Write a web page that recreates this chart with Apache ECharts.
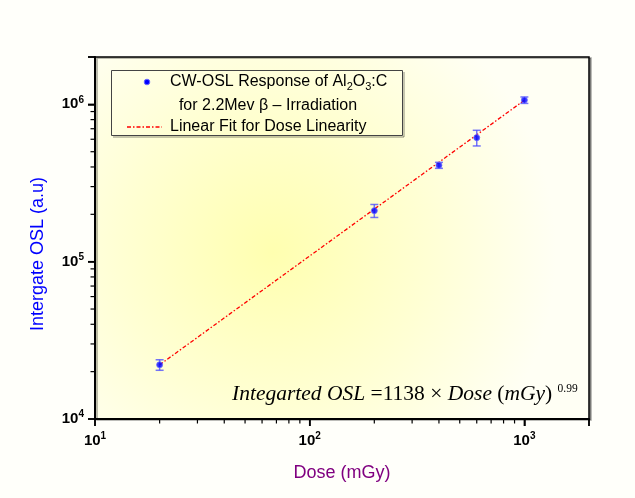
<!DOCTYPE html>
<html>
<head>
<meta charset="utf-8">
<script src="https://cdn.jsdelivr.net/npm/echarts@6/dist/echarts.min.js"></script>
<style>html,body{margin:0;padding:0;background:#fffffa;}#c{width:635px;height:498px;}</style>
</head>
<body>
<div id="c"></div>
<script>
// ---- data ----
const doses = [20, 200, 400, 600, 1000];                 // mGy
const oslValues = [22100, 211000, 410000, 614000, 1064000];
const oslErrors = [1700, 20000, 18000, 70000, 50000];
const fitX = [20, 1000];
const fitY = [22100, 1062000];
const xTickValues = [10, 100, 1000];
const xTickExps = ['1', '2', '3'];
const yTickValues = [1e4, 1e5, 1e6];
const yTickExps = ['4', '5', '6'];
const xMinorTicks = [20,30,40,50,60,70,80,90,200,300,400,500,600,700,800,900];
const yMinorTicks = [2e4,3e4,4e4,5e4,6e4,7e4,8e4,9e4,2e5,3e5,4e5,5e5,6e5,7e5,8e5,9e5];
const X_MIN = 10, X_MAX = 2000, Y_MIN = 1e4, Y_MAX = 2e6;

const chart = echarts.init(document.getElementById('c'));

function powFmt(vals, exps) {
  return function (v) {
    const i = vals.findIndex(t => Math.abs(t - v) / t < 1e-6);
    return i < 0 ? '' : '{b|10}{s|' + exps[i] + '}';
  };
}
const labelRich = {
  b: { fontSize: 15, fontWeight: 'bold', fontFamily: 'Liberation Sans, Arial', color: '#000' },
  s: { fontSize: 10, fontWeight: 'bold', fontFamily: 'Liberation Sans, Arial', color: '#000', padding: [0, 0, 9, 0] }
};

const SANS = 'Liberation Sans, Arial, sans-serif';
const SERIF = 'Liberation Serif, Times New Roman, serif';

const option = {
  backgroundColor: '#fffffa',
  animation: false,
  grid: {
    left: 95, right: 46, top: 57, bottom: 79,
    show: true,
    borderColor: '#000', borderWidth: 1.5,
    shadowColor: 'rgba(0,0,0,0.35)', shadowOffsetX: 2, shadowOffsetY: 1, shadowBlur: 0,
    backgroundColor: {
      type: 'radial', x: 0.36, y: 0.54, r: 0.78,
      colorStops: [
        { offset: 0, color: '#ffffb0' },
        { offset: 0.55, color: '#ffffd4' },
        { offset: 1, color: '#fffff4' }
      ]
    }
  },
  xAxis: {
    type: 'log', logBase: 10, min: X_MIN, max: X_MAX,
    axisLine: { show: true, lineStyle: { color: '#000', width: 2 } },
    axisTick: { show: true, inside: false, length: 7, lineStyle: { color: '#000', width: 1.5 } },
    axisLabel: { margin: 12, formatter: powFmt(xTickValues, xTickExps), rich: labelRich },
    splitLine: { show: false }, minorTick: { show: false }
  },
  yAxis: {
    type: 'log', logBase: 10, min: Y_MIN, max: Y_MAX,
    axisLine: { show: true, lineStyle: { color: '#000', width: 2 } },
    axisTick: { show: true, inside: false, length: 7, lineStyle: { color: '#000', width: 1.5 } },
    axisLabel: { margin: 11, formatter: powFmt(yTickValues, yTickExps), rich: labelRich },
    splitLine: { show: false }, minorTick: { show: false }
  },
  series: [
    {
      // axis ticks (major + minor) placed through the chart's own log scales
      name: 'ticks', type: 'custom', z: 6,
      data: [[100, 1e5, 1000, 1e6]],
      renderItem: function (params, api) {
        const a = api.coord([api.value(0), api.value(1)]);   // (100, 1e5)
        const b = api.coord([api.value(2), api.value(3)]);   // (1000, 1e6)
        const xDec = b[0] - a[0];                            // px per x decade
        const yDec = a[1] - b[1];                            // px per y decade
        const xOf = v => a[0] + xDec * (Math.log10(v) - 2);
        const yOf = v => a[1] - yDec * (Math.log10(v) - 5);
        const yBottom = yOf(Y_MIN);
        const xLeft = xOf(X_MIN);
        const st = { stroke: '#000', lineWidth: 1.2 };
        const stMaj = { stroke: '#000', lineWidth: 1.5 };
        const kids = [];
        xMinorTicks.forEach(v => {
          const x = xOf(v);
          kids.push({ type: 'line', shape: { x1: x, y1: yBottom, x2: x, y2: yBottom + 4.5 }, style: st });
        });
        xTickValues.concat([X_MAX]).forEach(v => {
          const x = xOf(v);
          kids.push({ type: 'line', shape: { x1: x, y1: yBottom, x2: x, y2: yBottom + 7 }, style: stMaj });
        });
        yMinorTicks.forEach(v => {
          const y = yOf(v);
          kids.push({ type: 'line', shape: { x1: xLeft, y1: y, x2: xLeft - 4.5, y2: y }, style: st });
        });
        yTickValues.concat([Y_MAX]).forEach(v => {
          const y = yOf(v);
          kids.push({ type: 'line', shape: { x1: xLeft, y1: y, x2: xLeft - 7, y2: y }, style: stMaj });
        });
        return { type: 'group', children: kids };
      }
    },
    {
      name: 'fit', type: 'line', z: 3,
      data: fitX.map((x, i) => [x, fitY[i]]),
      symbol: 'none',
      lineStyle: { color: '#ff0000', width: 1.3, type: [4, 2, 1.5, 2] }
    },
    {
      name: 'err', type: 'custom', z: 4,
      data: doses.map((d, i) => [d, oslValues[i], oslValues[i] - oslErrors[i], oslValues[i] + oslErrors[i]]),
      renderItem: function (params, api) {
        const x = api.value(0);
        const lo = api.coord([x, api.value(2)]);
        const hi = api.coord([x, api.value(3)]);
        const w = 4;
        const st = { stroke: 'rgba(70,70,255,0.75)', lineWidth: 1.5 };
        return { type: 'group', children: [
          { type: 'line', shape: { x1: lo[0], y1: lo[1], x2: hi[0], y2: hi[1] }, style: st },
          { type: 'line', shape: { x1: lo[0] - w, y1: lo[1], x2: lo[0] + w, y2: lo[1] }, style: st },
          { type: 'line', shape: { x1: hi[0] - w, y1: hi[1], x2: hi[0] + w, y2: hi[1] }, style: st }
        ] };
      }
    },
    {
      name: 'data', type: 'scatter', z: 5,
      data: doses.map((d, i) => [d, oslValues[i]]),
      symbol: 'circle', symbolSize: 6,
      itemStyle: { color: '#0000ff', borderColor: '#6a6aff', borderWidth: 1 }
    }
  ],
  graphic: [
    { type: 'text', x: 38, y: 254, rotation: Math.PI / 2,
      style: { text: 'Intergate OSL (a.u)', fill: '#0000ff', font: '18px ' + SANS, align: 'center', verticalAlign: 'middle' } },
    { type: 'text', x: 342, y: 473,
      style: { text: 'Dose (mGy)', fill: '#800080', font: '18px ' + SANS, align: 'center', verticalAlign: 'middle' } },
    // legend box
    { type: 'rect', z: 10, shape: { x: 111.5, y: 70.5, width: 291, height: 65 },
      style: { fill: 'transparent', stroke: '#444', lineWidth: 1 } },
    { type: 'line', z: 10, shape: { x1: 404, y1: 72, x2: 404, y2: 137 },
      style: { stroke: 'rgba(0,0,0,0.3)', lineWidth: 1.5 } },
    { type: 'line', z: 10, shape: { x1: 113, y1: 137, x2: 404, y2: 137 },
      style: { stroke: 'rgba(0,0,0,0.3)', lineWidth: 1.5 } },
    { type: 'circle', z: 11, shape: { cx: 147, cy: 82, r: 2.8 },
      style: { fill: '#0000ff', stroke: '#6a6aff', lineWidth: 1 } },
    { type: 'line', z: 11, shape: { x1: 127, y1: 127, x2: 162, y2: 127 },
      style: { stroke: '#ff0000', lineWidth: 1.3, lineDash: [4, 2, 1.5, 2] } },
    { type: 'text', z: 11, x: 170, y: 82,
      style: { text: '{n|CW-OSL Response of Al}{sub|2}{n|O}{sub|3}{n|:C}', align: 'left', verticalAlign: 'middle',
        rich: { n: { fontSize: 16, fontFamily: SANS, color: '#000' },
                sub: { fontSize: 11, fontFamily: SANS, color: '#000', padding: [9, 0, 0, 0] } } } },
    { type: 'text', z: 11, x: 268, y: 106,
      style: { text: 'for 2.2Mev β – Irradiation', fill: '#000', font: '16px ' + SANS, align: 'center', verticalAlign: 'middle' } },
    { type: 'text', z: 11, x: 170, y: 127,
      style: { text: 'Linear Fit for Dose Linearity', fill: '#000', font: '16px ' + SANS, align: 'left', verticalAlign: 'middle' } },
    // equation
    { type: 'text', z: 11, x: 232, y: 394,
      style: { text: '{i|Integarted OSL }{r|=1138 × }{i|Dose }{r|(}{i|mGy}{r|) }{sup|0.99}', align: 'left', verticalAlign: 'middle',
        rich: { i: { fontSize: 21.5, fontStyle: 'italic', fontFamily: SERIF, color: '#000' },
                r: { fontSize: 21.5, fontFamily: SERIF, color: '#000' },
                sup: { fontSize: 11.5, fontFamily: SERIF, color: '#000', padding: [0, 0, 11, 0] } } } }
  ]
};
chart.setOption(option);
</script>
</body>
</html>
